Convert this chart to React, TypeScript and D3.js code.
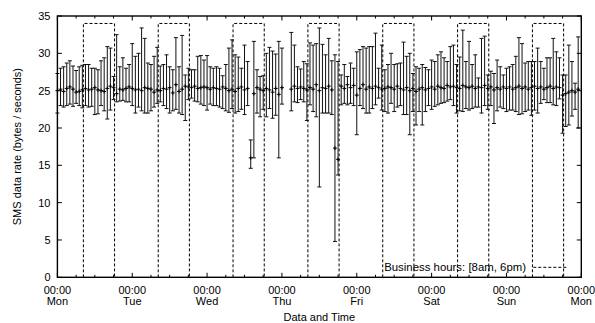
import React from "react";
import * as d3 from "d3";

// hourly samples, Mon 00:00 .. Sun 23:00 (null = missing)
const high: (number | null)[] = [
  27.3, 28.0, 28.2, 28.7, 29.0, 28.3, 27.7, 28.2, 28.4, 28.5, 28.5, 28.0, 28.0, 27.8, 29.0, 29.4, 30.9, 30.7, 26.9, 32.5, 28.2, 29.4, 28.0, 28.5,
  31.3, 29.6, 30.0, 33.4, 32.0, 28.7, 28.5, 29.6, 30.8, 28.3, 28.5, 29.8, 28.2, 27.8, 32.1, 28.2, 32.4, 27.1, 28.0, 27.8, 27.8, 29.6, 29.7, 29.1,
  29.7, 28.2, 28.0, 28.2, 28.0, 27.0, 28.5, 30.7, 31.8, 29.8, 29.5, 28.0, 31.1, 28.9, 18.4, 31.6, 27.8, 26.9, 27.0, 30.0, 30.8, 30.3, 29.9, 31.6,
  30.7, null, null, 32.8, 31.1, 28.2, 27.9, 28.9, 28.6, 31.4, 31.1, 31.3, 33.4, 31.2, 29.8, 32.0, 29.0, 29.8, 28.9, 27.1, 28.5, 26.9, 28.7, 28.0,
  30.2, 30.5, 30.9, 30.7, 30.9, 30.9, 32.7, 28.0, 31.1, 27.8, 28.5, 30.0, 28.5, 28.6, 28.7, 31.5, 29.6, 30.0, 27.3, 28.2, 28.0, 28.5, 28.1, 27.8,
  29.1, 28.9, 29.8, 30.2, 29.4, 28.9, 30.9, 31.1, 28.5, 29.5, 33.1, 28.9, 31.6, 28.5, 29.8, 26.7, 32.0, 32.3, 27.1, 27.6, 27.3, 29.1, 28.2, 27.1,
  28.0, 28.2, 28.5, 29.6, 32.1, 31.3, 28.7, 28.9, 28.9, 28.9, 30.7, 28.9, 28.0, 29.4, 29.4, 32.0, 30.2, 29.4, 27.1, 27.1, 31.1, 28.9, 26.0, 32.2,
];
const low: (number | null)[] = [
  22.0, 23.0, 22.8, 23.0, 23.2, 22.9, 23.3, 23.0, 22.7, 23.0, 22.8, 22.9, 21.8, 21.9, 23.0, 22.3, 21.2, 22.4, 23.8, 23.5, 23.6, 23.7, 23.5, 23.5,
  23.0, 22.0, 22.8, 22.3, 22.0, 22.0, 22.3, 22.8, 23.3, 23.5, 23.0, 22.6, 22.0, 22.3, 22.5, 22.0, 21.8, 21.0, 23.8, 24.0, 23.6, 23.5, 23.2, 23.0,
  22.4, 23.2, 23.0, 23.0, 22.8, 22.6, 22.3, 22.1, 22.6, 22.0, 22.2, 22.5, 21.8, 23.0, 14.6, 16.0, 22.0, 21.5, 22.5, 21.5, 22.6, 21.3, 21.7, 16.0,
  23.2, null, null, 22.3, 23.5, 23.4, 23.8, 23.5, 21.0, 23.1, 22.2, 21.5, 12.1, 22.0, 22.0, 22.0, 21.8, 4.8, 13.7, 23.1, 23.3, 23.1, 23.3, 23.0,
  19.1, 23.0, 22.6, 22.0, 22.0, 22.6, 23.1, 24.0, 22.4, 22.2, 22.0, 23.3, 22.2, 22.8, 23.0, 21.8, 21.8, 19.1, 22.2, 20.4, 22.2, 20.4, 22.2, 23.0,
  22.5, 22.9, 23.1, 23.3, 23.4, 23.6, 23.8, 23.0, 22.0, 22.3, 22.2, 22.6, 22.4, 22.6, 22.8, 22.8, 22.0, 23.0, 22.5, 23.0, 20.6, 22.3, 22.8, 22.6,
  22.2, 22.4, 22.4, 22.2, 21.8, 21.9, 22.2, 22.4, 21.7, 22.4, 22.0, 23.3, 23.8, 23.4, 23.4, 23.1, 23.0, 23.9, 19.3, 20.2, 20.4, 21.6, 22.5, 20.0,
];
const mean: (number | null)[] = [
  25.0, 25.2, 24.9, 25.3, 25.5, 25.2, 24.8, 24.9, 25.1, 25.3, 25.1, 25.2, 25.4, 25.1, 25.0, 24.9, 25.3, 25.6, 25.4, 24.6, 25.2, 25.1, 25.3, 25.5,
  25.3, 25.1, 25.2, 25.0, 25.4, 25.3, 25.2, 24.8, 25.1, 25.0, 25.3, 25.2, 25.4, 24.7, 25.8, 24.9, 25.2, 25.6, 25.5, 25.4, 25.6, 25.3, 25.4, 25.5,
  25.4, 25.2, 25.4, 25.3, 25.2, 25.5, 25.3, 25.0, 25.2, 24.9, 25.3, 25.5, 25.1, 25.3, 16.0, 24.6, 25.4, 25.2, 25.0, 25.3, 25.1, 24.8, 25.3, 24.5,
  25.4, null, null, 25.2, 25.6, 25.3, 25.5, 25.3, 25.1, 25.4, 25.2, 25.8, 25.0, 25.4, 25.3, 25.6, 25.1, 17.3, 15.8, 25.6, 25.3, 25.8, 25.4, 25.7,
  24.4, 25.3, 25.8, 25.2, 25.5, 25.3, 25.6, 25.4, 25.2, 25.3, 25.5, 25.4, 25.2, 25.6, 25.3, 25.1, 25.4, 25.0, 25.3, 24.9, 25.2, 25.4, 25.1, 25.3,
  25.5, 25.2, 25.6, 25.4, 25.3, 25.7, 25.5, 25.6, 25.4, 25.3, 25.7, 25.5, 25.4, 25.6, 25.3, 25.5, 25.4, 25.7, 25.3, 25.5, 25.1, 25.4, 25.2, 25.5,
  25.3, 25.5, 25.2, 25.4, 25.6, 25.3, 25.5, 25.2, 25.4, 25.6, 25.3, 25.5, 25.2, 25.4, 25.6, 25.3, 25.5, 25.4, 24.4, 24.6, 24.8, 25.0, 24.8, 25.2,
];

const dayLabels = ["Mon", "Tue", "Wed", "Thu", "Fri", "Sat", "Sun", "Mon"];
const yTicks = [0, 5, 10, 15, 20, 25, 30, 35];
const businessStart = 8.33; // hours after midnight
const businessEnd = 18.33;
const businessTop = 34;

const W = 595;
const H = 323;
const L = 57.4, R = 581.3, T = 16, B = 277.3;
const FONT = "'Liberation Sans', Arial, Helvetica, sans-serif";

export default function App() {
  const x = d3.scaleLinear().domain([0, 168]).range([L, R]);
  const y = d3.scaleLinear().domain([0, 35]).range([B, T]);
  const majors = d3.range(0, 169, 24);
  const minors = d3.range(0, 169, 6).filter((h) => h % 24 !== 0);
  const cap = 2;
  const plus = 2;
  return (
    <svg width={W} height={H} style={{ position: "absolute", left: 0, top: 0, background: "#fff" }}
      fontFamily={FONT}>
      {/* business hour boxes */}
      {d3.range(7).map((d) => {
        const x0 = x(d * 24 + businessStart), x1 = x(d * 24 + businessEnd);
        return (
          <path key={"b" + d}
            d={`M${x0},${y(0)}V${y(businessTop)}H${x1}V${y(0)}`}
            fill="none" stroke="#000" strokeWidth={1} strokeDasharray="3,2" />
        );
      })}
      {/* error bars */}
      {high.map((hv, i) => {
        const lv = low[i];
        if (hv == null || lv == null) return null;
        const cx = x(i);
        return (
          <g key={"e" + i} stroke="#111" strokeWidth={1}>
            <line x1={cx} x2={cx} y1={y(hv)} y2={y(lv)} />
            <line x1={cx - cap} x2={cx + cap} y1={y(hv)} y2={y(hv)} />
            <line x1={cx - cap} x2={cx + cap} y1={y(lv)} y2={y(lv)} />
          </g>
        );
      })}
      {/* mean points */}
      {mean.map((m, i) => {
        if (m == null) return null;
        const cx = x(i), cy = y(m);
        return (
          <path key={"m" + i} d={`M${cx - plus},${cy}H${cx + plus}M${cx},${cy - plus}V${cy + plus}`}
            stroke="#000" strokeWidth={1} />
        );
      })}
      {/* frame */}
      <rect x={L} y={T} width={R - L} height={B - T} fill="none" stroke="#000" strokeWidth={1.4} />
      {/* x ticks */}
      {majors.map((h) => (
        <g key={"xt" + h} stroke="#000" strokeWidth={1}>
          <line x1={x(h)} x2={x(h)} y1={B} y2={B - 4.5} />
          <line x1={x(h)} x2={x(h)} y1={T} y2={T + 4.5} />
        </g>
      ))}
      {minors.map((h) => (
        <g key={"xm" + h} stroke="#000" strokeWidth={1}>
          <line x1={x(h)} x2={x(h)} y1={B} y2={B - 2.5} />
          <line x1={x(h)} x2={x(h)} y1={T} y2={T + 2.5} />
        </g>
      ))}
      {majors.map((h, k) => (
        <text key={"xl" + h} x={x(h)} textAnchor="middle" fontSize={11} fill="#000">
          <tspan x={x(h)} y={294}>00:00</tspan>
          <tspan x={x(h)} y={305}>{dayLabels[k]}</tspan>
        </text>
      ))}
      {/* y ticks */}
      {yTicks.map((v) => (
        <g key={"yt" + v}>
          <line x1={L} x2={L + 4.5} y1={y(v)} y2={y(v)} stroke="#000" />
          <line x1={R} x2={R - 4.5} y1={y(v)} y2={y(v)} stroke="#000" />
          <text x={50.5} y={y(v) + 4} textAnchor="end" fontSize={11} fill="#000">{v}</text>
        </g>
      ))}
      {/* axis titles */}
      <text x={(L + R) / 2} y={321} textAnchor="middle" fontSize={11} fill="#000">Data and Time</text>
      <text transform={`translate(20.5,${(T + B) / 2}) rotate(-90)`} textAnchor="middle" fontSize={11} fill="#000">
        SMS data rate (bytes / seconds)
      </text>
      {/* legend */}
      <text x={526} y={271} textAnchor="end" fontSize={11.4} fill="#000">Business hours: [8am, 6pm)</text>
      <line x1={533.3} x2={566.7} y1={267.3} y2={267.3} stroke="#000" strokeDasharray="3,2" />
    </svg>
  );
}
